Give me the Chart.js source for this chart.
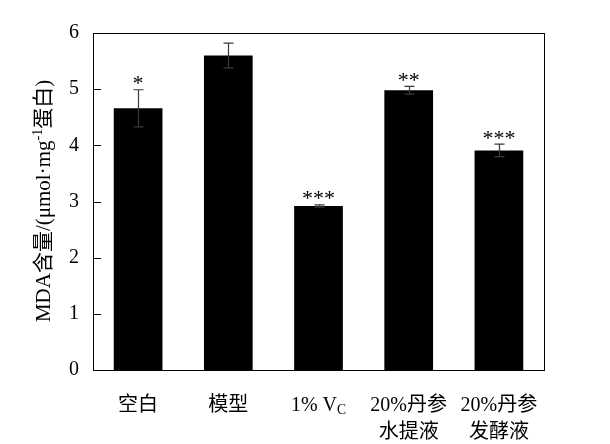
<!DOCTYPE html>
<html>
<head>
<meta charset="utf-8">
<script src="https://cdn.jsdelivr.net/npm/chart.js@4"></script>
<style>
  html, body { margin: 0; padding: 0; background: #fff; }
  #wrap { width: 610px; height: 444px; }
</style>
</head>
<body>
<div id="wrap"><canvas id="mdaChart" width="610" height="444"></canvas></div>
<script>
// groups ("_X" = subscript, "\n" = new line)
const categories = ['空白', '模型', '1% V_C', '20%丹参\n水提液', '20%丹参\n发酵液'];
const mdaValues = [4.66, 5.60, 2.92, 4.98, 3.91];
const mdaErrors = [0.33, 0.22, 0.02, 0.07, 0.11];
const sigMarks = ['*', '', '***', '**', '***'];
const yTicks = [0, 1, 2, 3, 4, 5, 6];

const FONT = '"Liberation Serif", "Times New Roman", "Noto Sans CJK SC", serif';

// draw a string with "_X" subscripts, centered at x
function drawRich(ctx, text, x, y, size) {
    const parts = [];
    const re = /_(\w)/g;
    let last = 0, m;
    while ((m = re.exec(text)) !== null) {
        parts.push({ t: text.slice(last, m.index), sub: false });
        parts.push({ t: m[1], sub: true });
        last = m.index + m[0].length;
    }
    parts.push({ t: text.slice(last), sub: false });
    let total = 0;
    parts.forEach(p => {
        ctx.font = (p.sub ? size * 0.68 : size) + 'px ' + FONT;
        p.w = ctx.measureText(p.t).width;
        total += p.w;
    });
    let cx = x - total / 2;
    parts.forEach(p => {
        ctx.font = (p.sub ? size * 0.68 : size) + 'px ' + FONT;
        ctx.fillText(p.t, cx, p.sub ? y + size * 0.22 : y);
        cx += p.w;
    });
}

const extras = {
    id: 'extras',
    afterDatasetsDraw(chart) {
        const { ctx, chartArea: a, scales: { x, y } } = chart;
        ctx.save();
        // frame
        ctx.strokeStyle = '#000';
        ctx.lineWidth = 1;
        ctx.strokeRect(a.left + 0.5, a.top + 0.5, a.right - a.left, a.bottom - a.top);
        // inward ticks on y
        yTicks.forEach(v => {
            const py = Math.round(y.getPixelForValue(v)) + 0.5;
            ctx.beginPath();
            ctx.moveTo(a.left, py);
            ctx.lineTo(a.left + 8, py);
            ctx.stroke();
        });
        // error bars + stars
        const meta = chart.getDatasetMeta(0);
        meta.data.forEach((bar, i) => {
            const bx = Math.round(bar.x) + 0.5;
            const top = y.getPixelForValue(mdaValues[i] + mdaErrors[i]);
            const bot = y.getPixelForValue(mdaValues[i] - mdaErrors[i]);
            ctx.strokeStyle = '#3a3a3a';
            ctx.lineWidth = 1.2;
            ctx.beginPath();
            ctx.moveTo(bx, top); ctx.lineTo(bx, bot);
            ctx.moveTo(bx - 5, top); ctx.lineTo(bx + 5, top);
            ctx.moveTo(bx - 5, bot); ctx.lineTo(bx + 5, bot);
            ctx.stroke();
            if (sigMarks[i]) {
                ctx.fillStyle = '#000';
                ctx.font = '22px ' + FONT;
                ctx.textAlign = 'center';
                ctx.textBaseline = 'alphabetic';
                ctx.fillText(sigMarks[i], bar.x, top + 0.5);
            }
        });
        // x labels
        ctx.fillStyle = '#000';
        ctx.textAlign = 'left';
        ctx.textBaseline = 'middle';
        categories.forEach((c, i) => {
            const px = x.getPixelForValue(i);
            c.split('\n').forEach((line, j) => {
                drawRich(ctx, line, px, a.bottom + 36 + j * 27, 20);
            });
        });
        // y title with superscript
        ctx.translate(44, 201);
        ctx.rotate(-Math.PI / 2);
        const segs = [
            { t: 'MDA含量/(μmol·mg', sup: false },
            { t: '-1', sup: true },
            { t: '蛋白)', sup: false }
        ];
        let tw = 0;
        segs.forEach(s => {
            ctx.font = (s.sup ? 14 : 21) + 'px ' + FONT;
            s.w = ctx.measureText(s.t).width;
            tw += s.w;
        });
        let sx = -tw / 2;
        segs.forEach(s => {
            ctx.font = (s.sup ? 14 : 21) + 'px ' + FONT;
            ctx.fillText(s.t, sx, s.sup ? -6 : 0);
            sx += s.w;
        });
        ctx.restore();
    }
};

const ctx = document.getElementById('mdaChart').getContext('2d');

const mdaChart = new Chart(ctx, {
    type: 'bar',
    data: {
        labels: categories,
        datasets: [{
            data: mdaValues,
            backgroundColor: '#000',
            borderWidth: 0,
            barPercentage: 0.54,
            categoryPercentage: 1
        }]
    },
    options: {
        responsive: false,
        animation: false,
        layout: { padding: { top: 33, right: 66, left: 0, bottom: 0 } },
        scales: {
            x: {
                grid: { display: false, drawTicks: false },
                border: { display: false },
                ticks: { display: false },
                afterFit: s => { s.height = 74; }
            },
            y: {
                min: 0,
                max: 6,
                grid: { display: false, drawTicks: false },
                border: { display: false },
                afterBuildTicks: s => { s.ticks = yTicks.map(v => ({ value: v })); },
                ticks: {
                    color: '#000',
                    padding: 14,
                    font: { family: FONT, size: 20 }
                },
                afterFit: s => { s.width = 93; }
            }
        },
        plugins: {
            legend: { display: false },
            tooltip: { enabled: false }
        }
    },
    plugins: [extras]
});
</script>
</body>
</html>
